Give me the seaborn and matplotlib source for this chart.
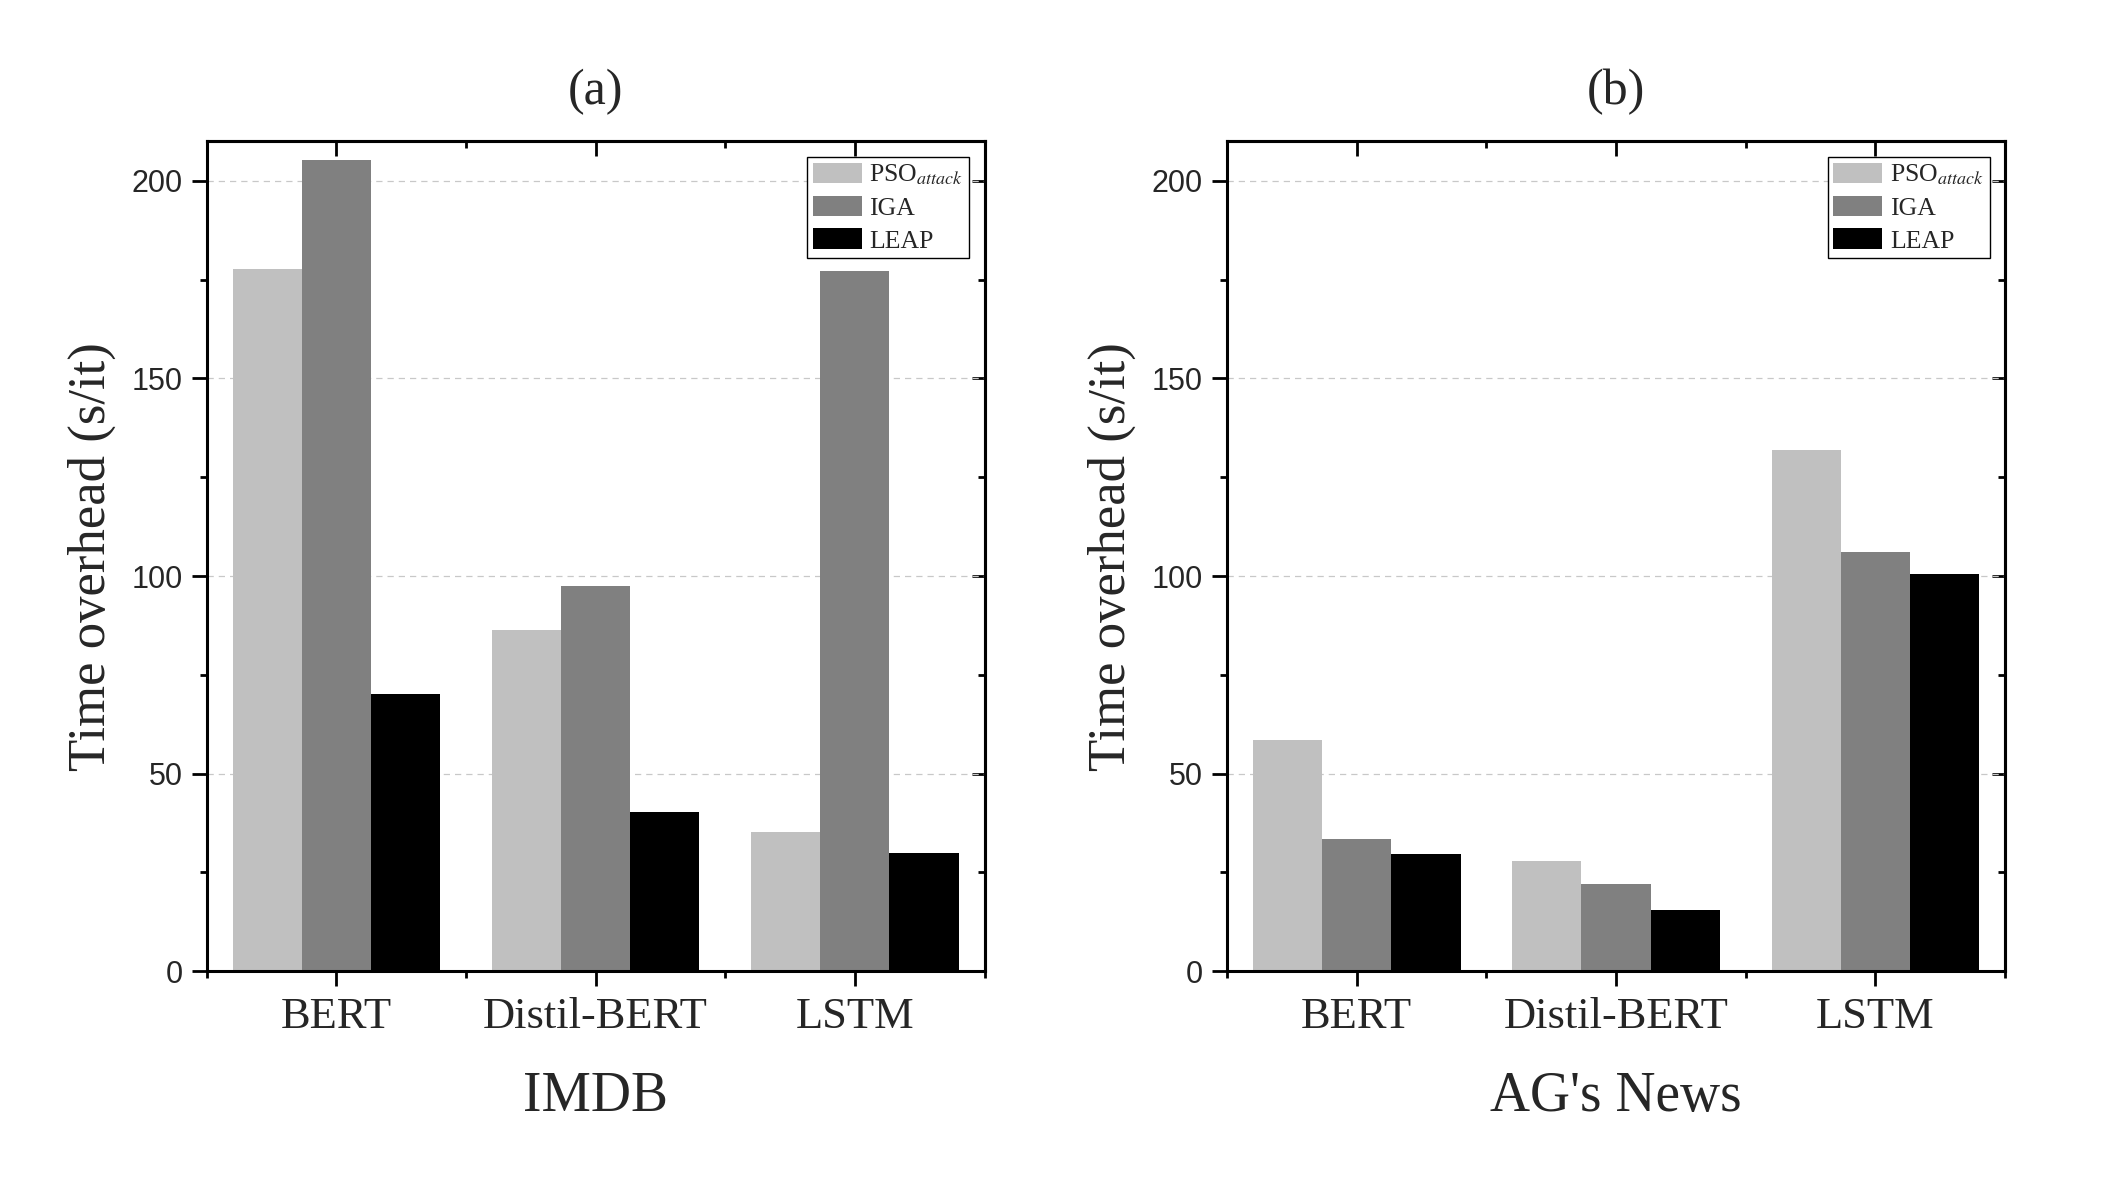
import matplotlib
matplotlib.use('Agg')
import pandas as pd
import matplotlib.pyplot as plt
import seaborn as sns
from matplotlib.ticker import MultipleLocator, FixedLocator

models = ['BERT', 'Distil-BERT', 'LSTM']
methods = ['PSO_attack', 'IGA', 'LEAP']
legend_labels = [r'PSO$_{attack}$', 'IGA', 'LEAP']
colors = ['#C0C0C0', '#808080', '#000000']

# (a) IMDB
imdb_pso = [177.6, 86.4, 35.1]
imdb_iga = [205.2, 97.4, 177.3]
imdb_leap = [70.2, 40.3, 29.9]

# (b) AG's News
ag_pso = [58.5, 27.9, 131.8]
ag_iga = [33.4, 22.0, 106.0]
ag_leap = [29.6, 15.5, 100.5]

sns.set_theme(style='white')
plt.rcParams['font.family'] = ['Liberation Serif', 'DejaVu Serif']
plt.rcParams['mathtext.fontset'] = 'stix'


def make_df(pso, iga, leap):
    rows = []
    for meth, vals in zip(methods, [pso, iga, leap]):
        for m, v in zip(models, vals):
            rows.append({'model': m, 'method': meth, 'time': v})
    return pd.DataFrame(rows)


def draw(ax, df, title, xlabel):
    sns.barplot(data=df, x='model', y='time', hue='method', order=models,
                hue_order=methods, palette=colors, saturation=1, width=0.8,
                errorbar=None, linewidth=0, ax=ax, zorder=2)
    ax.set_xlim(-0.5, 2.5)
    ax.set_ylim(0, 210)
    ax.yaxis.set_major_locator(MultipleLocator(50))
    ax.yaxis.set_minor_locator(MultipleLocator(25))
    ax.xaxis.set_minor_locator(FixedLocator([-0.5, 0.5, 1.5, 2.5]))
    ax.tick_params(which='major', direction='out', length=10.5, width=2,
                   color='black', left=True, bottom=True)
    ax.tick_params(which='minor', direction='out', length=5, width=2,
                   color='black', left=True, bottom=True)
    ax.tick_params(axis='x', labelsize=32, pad=8)
    ax.tick_params(axis='y', labelsize=22, pad=7)
    for lbl in ax.get_yticklabels():
        lbl.set_fontfamily('Liberation Sans')
    ax.grid(axis='y', which='major', linestyle=(0, (5, 4)), color='#c8c8c8',
            linewidth=0.9)
    ax.set_axisbelow(True)
    for s in ax.spines.values():
        s.set_linewidth(2.2)
        s.set_color('black')

    sec_y = ax.secondary_yaxis('right')
    sec_y.yaxis.set_major_locator(MultipleLocator(50))
    sec_y.yaxis.set_minor_locator(MultipleLocator(25))
    sec_y.tick_params(which='major', direction='in', length=9.5, width=2,
                      labelright=False, color='black')
    sec_y.tick_params(which='minor', direction='in', length=5, width=2,
                      color='black')
    sec_y.spines['right'].set_linewidth(2.2)

    sec_x = ax.secondary_xaxis('top')
    sec_x.xaxis.set_major_locator(FixedLocator([0, 1, 2]))
    sec_x.xaxis.set_minor_locator(FixedLocator([-0.5, 0.5, 1.5, 2.5]))
    sec_x.tick_params(which='major', direction='in', length=10.5, width=2,
                      labeltop=False, color='black')
    sec_x.tick_params(which='minor', direction='in', length=5, width=2,
                      color='black')
    sec_x.spines['top'].set_linewidth(2.2)

    ax.set_title(title, fontsize=36, pad=27)
    ax.set_xlabel(xlabel, fontsize=40, labelpad=25)
    ax.set_ylabel('Time overhead (s/it)', fontsize=38, labelpad=11)

    handles, _ = ax.get_legend_handles_labels()
    leg = ax.legend(handles, legend_labels, loc='upper right', fontsize=18.5,
                    frameon=True, fancybox=False, edgecolor='black',
                    framealpha=1, handlelength=1.9, handleheight=0.85,
                    handletextpad=0.3, labelspacing=0.33, borderpad=0.22,
                    borderaxespad=0.6)
    leg.get_frame().set_linewidth(1.0)


fig = plt.figure(figsize=(21.25, 11.8), dpi=100)
ax1 = fig.add_axes([0.0973, 0.1771, 0.366, 0.703])
ax2 = fig.add_axes([0.5775, 0.1771, 0.366, 0.703])

draw(ax1, make_df(imdb_pso, imdb_iga, imdb_leap), '(a)', 'IMDB')
draw(ax2, make_df(ag_pso, ag_iga, ag_leap), '(b)', "AG's News")

fig.savefig('out.png', dpi=100)
